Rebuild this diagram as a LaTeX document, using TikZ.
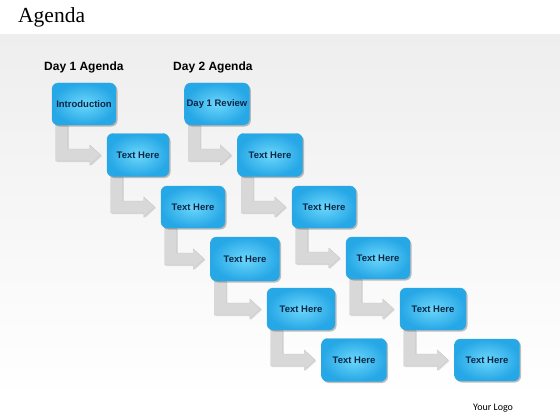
\documentclass[tikz,border=0pt]{standalone}
\usepackage{fontspec}
\setmainfont{Liberation Serif}
\setsansfont{Liberation Sans}
\newfontfamily\logofont{Carlito}
\usetikzlibrary{shadows,calc}
\definecolor{boxin}{HTML}{6CD7FB}
\definecolor{boxout}{HTML}{26A7E6}
\definecolor{boxedge}{HTML}{3AA8DC}
\definecolor{boxtext}{HTML}{0B2747}
\definecolor{arrowfill}{HTML}{D8D8D8}
\definecolor{arrowedge}{HTML}{C4C4C4}
\definecolor{panelgray}{HTML}{EEEEEE}
\pgfdeclarelayer{panel}
\pgfdeclarelayer{bg}
\pgfsetlayers{panel,bg,main}
\tikzset{
  agbox/.style={rounded corners=6pt, draw=boxedge, line width=0.4pt,
    inner color=boxin, outer color=boxout,
    drop shadow={shadow xshift=1.5pt, shadow yshift=-1.5pt, opacity=0.35, fill=black!70},
    font=\sffamily\bfseries\fontsize{9.5}{10}\selectfont, text=boxtext,
    minimum width=64pt, minimum height=42pt, inner sep=2pt},
  dayhead/.style={font=\sffamily\bfseries\fontsize{12}{14}\selectfont, anchor=base west, inner sep=0pt},
  larrow/.style={fill=arrowfill, draw=arrowedge, line width=0.3pt,
    drop shadow={shadow xshift=1pt, shadow yshift=-1pt, opacity=0.2, fill=black!60}}
}
\newcommand\lstep[2]{%
  \fill[larrow] let \p1=(#1.south west), \p2=(#2.west) in
    (\x1+4pt,\y1) -- (\x1+4pt,\y2-6pt) -- (\x2-17pt,\y2-6pt) -- (\x2-17pt,\y2-10pt)
    -- (\x2-6pt,\y2) -- (\x2-17pt,\y2+10pt) -- (\x2-17pt,\y2+6pt)
    -- (\x1+16pt,\y2+6pt) -- (\x1+16pt,\y1) -- cycle;}
\begin{document}
\begin{tikzpicture}[x=1pt,y=-1pt]
\useasboundingbox (0,0) rectangle (560,420);
\begin{pgfonlayer}{panel}
  \fill[white] (0,0) rectangle (560,420);
  \fill[top color=panelgray, bottom color=white] (0,35) rectangle (560,400);
\end{pgfonlayer}
\node[anchor=base west, inner sep=0pt, font=\fontsize{21.5}{24}\selectfont] (title) at (18,23) {Agenda};
\node[dayhead] (d1) at (44,71) {Day 1 Agenda};
\node[dayhead] (d2) at (173,71) {Day 2 Agenda};
\node[anchor=base west, inner sep=0pt, font=\logofont\fontsize{10}{12}\selectfont] (logo) at (473,410) {Your Logo};
% column 1
\node[agbox] (a1) at (84,104) {Introduction};
\node[agbox, minimum width=62pt, minimum height=43pt] (a2) at (138,155) {Text Here};
\node[agbox] (a3) at (193,207) {Text Here};
\node[agbox, minimum width=69pt, minimum height=44pt] (a4) at (245,259) {Text Here};
\node[agbox, minimum width=68pt] (a5) at (301,309) {Text Here};
\node[agbox, minimum width=65pt, minimum height=43pt] (a6) at (354,360) {Text Here};
% column 2
\node[agbox] (b1) at (217,104) {Day 1 Review};
\node[agbox, minimum width=65pt, minimum height=43pt] (b2) at (270,155) {Text Here};
\node[agbox] (b3) at (324,207) {Text Here};
\node[agbox] (b4) at (378,258) {Text Here};
\node[agbox, minimum width=66pt] (b5) at (433,309) {Text Here};
\node[agbox, minimum width=65pt] (b6) at (487,360) {Text Here};
\begin{pgfonlayer}{bg}
  \lstep{a1}{a2}\lstep{a2}{a3}\lstep{a3}{a4}\lstep{a4}{a5}\lstep{a5}{a6}
  \lstep{b1}{b2}\lstep{b2}{b3}\lstep{b3}{b4}\lstep{b4}{b5}\lstep{b5}{b6}
\end{pgfonlayer}
\end{tikzpicture}
\end{document}
